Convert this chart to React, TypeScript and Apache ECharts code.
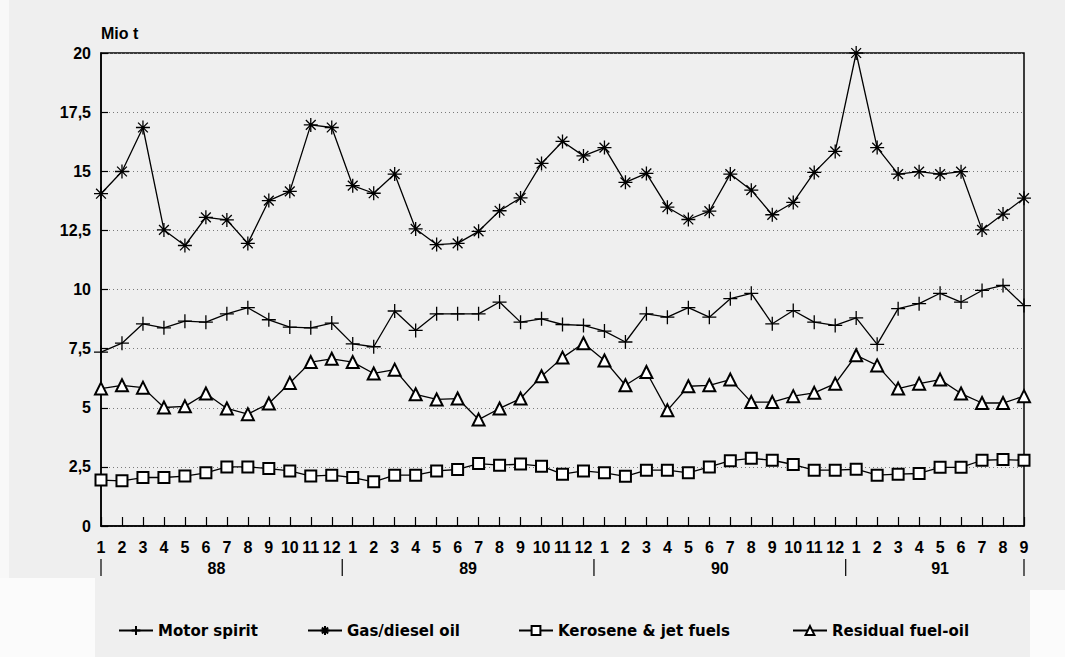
import React, { useEffect, useRef } from 'react';
import * as echarts from 'echarts';

const years = ['88', '89', '90', '91'];
const monthsPerYear = [12, 12, 12, 9];
const seriesNames = ['Motor spirit', 'Gas/diesel oil', 'Kerosene & jet fuels', 'Residual fuel-oil'];

const motorSpirit = [
  7.35, 7.73, 8.55, 8.38, 8.66, 8.62, 8.97, 9.23, 8.72, 8.41, 8.38, 8.58,
  7.7, 7.58, 9.09, 8.27, 8.97, 8.97, 8.97, 9.47, 8.62, 8.76, 8.52, 8.48,
  8.24, 7.78, 8.97, 8.83, 9.23, 8.83, 9.61, 9.84, 8.55, 9.11, 8.62, 8.48,
  8.8, 7.68, 9.19, 9.4, 9.84, 9.47, 9.96, 10.17, 9.32,
];
const gasDiesel = [
  14.05, 14.99, 16.85, 12.52, 11.86, 13.05, 12.94, 11.95, 13.76, 14.15, 16.96, 16.85,
  14.39, 14.07, 14.88, 12.56, 11.9, 11.95, 12.46, 13.33, 13.87, 15.33, 16.26, 15.65,
  16.0, 14.53, 14.91, 13.48, 12.96, 13.31, 14.88, 14.2, 13.16, 13.68, 14.95, 15.84,
  20.0, 16.0, 14.88, 14.98, 14.88, 14.98, 12.52, 13.19, 13.86,
];
const kerosene = [
  1.94, 1.91, 2.05, 2.05, 2.11, 2.25, 2.5, 2.5, 2.43, 2.33, 2.11, 2.15,
  2.05, 1.87, 2.15, 2.15, 2.33, 2.39, 2.64, 2.57, 2.62, 2.53, 2.19, 2.33,
  2.25, 2.1, 2.36, 2.36, 2.25, 2.5, 2.76, 2.86, 2.78, 2.6, 2.36, 2.36,
  2.4, 2.15, 2.19, 2.22, 2.48, 2.48, 2.78, 2.81, 2.78,
];
const residual = [
  5.81, 5.95, 5.85, 5.01, 5.06, 5.6, 4.97, 4.73, 5.18, 6.05, 6.93, 7.07,
  6.93, 6.45, 6.61, 5.57, 5.35, 5.39, 4.5, 4.97, 5.39, 6.33, 7.12, 7.73,
  7.0, 5.95, 6.51, 4.89, 5.91, 5.95, 6.19, 5.24, 5.24, 5.49, 5.63, 6.02,
  7.22, 6.79, 5.81, 6.02, 6.19, 5.6, 5.2, 5.2, 5.49,
];

const yMin = 0;
const yMax = 20;
const yStep = 2.5;

const FONT = '"Liberation Sans", Arial, sans-serif';
const WIDE_FONT = '"DejaVu Sans", Verdana, sans-serif';

const categories: string[] = [];
years.forEach((y, i) => {
  for (let m = 1; m <= monthsPerYear[i]; m++) categories.push(y + '-' + m);
});

const plusSymbol = 'path://M0,5L10,5M5,0L5,10';
const starSymbol = 'path://M5,0L5,10M0,5L10,5M1.5,1.5L8.5,8.5M8.5,1.5L1.5,8.5';

const legendLefts = [118, 307, 518, 792];

export default function App() {
  const ref = useRef<HTMLDivElement>(null);
  useEffect(() => {
    if (!ref.current) return;
    const chart = echarts.init(ref.current, null, { renderer: 'svg' });
    const lineStyle = { color: '#000', width: 1.3 };
    const mk = (name: string, data: number[], symbol: string, size: number) => ({
      name,
      type: 'line',
      data,
      symbol,
      symbolSize: size,
      showSymbol: true,
      lineStyle,
      itemStyle: { color: '#000', borderColor: '#000', borderWidth: 1.3 },
      emphasis: { disabled: true },
    });
    chart.setOption({
      animation: false,
      backgroundColor: '#efefef',
      textStyle: { fontFamily: FONT },
      grid: {
        left: 101, right: 41, top: 53, bottom: 131,
        show: true, borderColor: '#000', borderWidth: 1.5, backgroundColor: 'transparent',
      },
      legend: seriesNames.map((n, i) => ({
        data: [n],
        left: legendLefts[i],
        top: 623,
        padding: 0,
        itemWidth: 34,
        itemHeight: 11,
        itemGap: 6,
        textStyle: { fontFamily: WIDE_FONT, fontWeight: 'bold', fontSize: 15, color: '#000' },
        selectedMode: false,
      })),
      xAxis: {
        type: 'category',
        data: categories,
        boundaryGap: false,
        axisLine: { lineStyle: { color: '#000', width: 1.5 } },
        axisTick: { inside: true, length: 9, interval: 0, lineStyle: { color: '#000', width: 1.2 } },
        axisLabel: {
          interval: 0, margin: 13, color: '#000', fontWeight: 'bold', fontSize: 16, fontFamily: FONT,
          formatter: (v: string) => v.split('-')[1],
        },
        splitLine: { show: false },
      },
      yAxis: {
        type: 'value',
        min: yMin,
        max: yMax,
        interval: yStep,
        name: 'Mio t',
        nameLocation: 'end',
        nameGap: 12,
        nameTextStyle: { align: 'left', color: '#000', fontWeight: 'bold', fontSize: 16, fontFamily: FONT },
        axisLine: { show: true, lineStyle: { color: '#000', width: 1.5 } },
        axisTick: { show: true, inside: true, length: 7, lineStyle: { color: '#000', width: 1.2 } },
        axisLabel: {
          margin: 10, color: '#000', fontWeight: 'bold', fontSize: 16, fontFamily: FONT,
          formatter: (v: number) => String(v).replace('.', ','),
        },
        splitLine: { show: true, lineStyle: { color: '#7a7a7a', type: [1, 3], width: 1 } },
      },
      series: [
        mk(seriesNames[0], motorSpirit, plusSymbol, 14),
        mk(seriesNames[1], gasDiesel, starSymbol, 14),
        mk(seriesNames[2], kerosene, 'emptyRect', 11),
        mk(seriesNames[3], residual, 'emptyTriangle', 12),
      ],
    });

    // year labels and separators under the month labels
    const px = (i: number) => chart.convertToPixel({ xAxisIndex: 0 }, categories[i]) as number;
    const graphics: any[] = [
      { type: 'rect', z: -10, silent: true, shape: { x: 0, y: 578, width: 95, height: 79 }, style: { fill: '#fbfbfb' } },
      { type: 'rect', z: -10, silent: true, shape: { x: 1030, y: 590, width: 35, height: 67 }, style: { fill: '#fbfbfb' } },
      { type: 'rect', z: -10, silent: true, shape: { x: 0, y: 0, width: 9, height: 578 }, style: { fill: '#f8f8f8' } },
    ];
    let start = 0;
    const sepXs: number[] = [px(0)];
    years.forEach((y, i) => {
      const end = start + monthsPerYear[i] - 1;
      const cx = (px(start) + px(end)) / 2;
      graphics.push({
        type: 'text', x: cx, y: 568,
        style: { text: y, fill: '#000', font: 'bold 16px ' + FONT, align: 'center', verticalAlign: 'middle' },
      });
      if (i < years.length - 1) sepXs.push((px(end) + px(end + 1)) / 2);
      else sepXs.push(px(end));
      start = end + 1;
    });
    sepXs.forEach((x) => {
      graphics.push({
        type: 'line', shape: { x1: x, y1: 559, x2: x, y2: 576 },
        style: { stroke: '#000', lineWidth: 1.2 },
      });
    });
    chart.setOption({ graphic: graphics });

    return () => chart.dispose();
  }, []);
  return <div ref={ref} style={{ position: 'fixed', left: 0, top: 0, width: 1065, height: 657 }} />;
}
